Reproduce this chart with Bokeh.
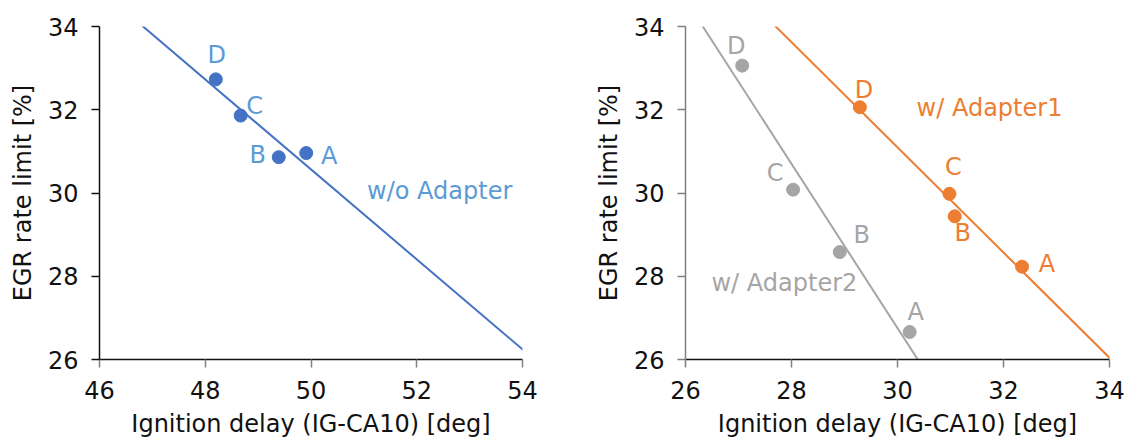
import numpy as np
from bokeh.plotting import figure
from bokeh.layouts import row
from bokeh.models import ColumnDataSource, Label, Range1d, FixedTicker
from bokeh.core.properties import value
from bokeh.embed import file_html
from bokeh.resources import INLINE

# ---------------- data ----------------
point_names = ["A", "B", "C", "D"]

# without adapter (left panel)
wo_x = [49.91, 49.39, 48.67, 48.20]
wo_y = [30.96, 30.86, 31.86, 32.73]

# with adapter 1 (right panel, orange)
a1_x = [32.35, 31.08, 30.98, 29.29]
a1_y = [28.23, 29.44, 29.98, 32.06]

# with adapter 2 (right panel, gray)
a2_x = [30.23, 28.91, 28.03, 27.07]
a2_y = [26.66, 28.58, 30.08, 33.06]

left_xticks = [46, 48, 50, 52, 54]
right_xticks = [26, 28, 30, 32, 34]
yticks = [26, 28, 30, 32, 34]

x_title = "Ignition delay (IG-CA10) [deg]"
y_title = "EGR rate limit [%]"

# ---------------- styles ----------------
FONT = "DejaVu Sans"
BLUE_PT, BLUE_TX = "#4472C4", "#5B9BD5"
ORANGE = "#ED7D31"
GRAY = "#A5A5A5"

# pixel offsets of point letters (style only)
wo_off = dict(dx=[23, -21, 14, 1], dy=[3, -2, -10, -24])
a1_off = dict(dx=[25, 8, 4, 4], dy=[-3, 17, -27, -17])
a2_off = dict(dx=[6, 22, -18, -6], dy=[-20, -17, -17, -20])


def make_fig(xticks, yaxis_color, border_left, border_right):
    p = figure(width=564, height=441,
               x_range=Range1d(xticks[0], xticks[-1]),
               y_range=Range1d(yticks[0], yticks[-1]),
               output_backend="svg", toolbar_location=None,
               min_border_left=border_left, min_border_right=border_right,
               min_border_top=26, min_border_bottom=82)
    p.outline_line_color = None
    p.grid.visible = False
    p.background_fill_color = "white"
    p.border_fill_color = "white"
    p.xaxis.ticker = FixedTicker(ticks=xticks)
    p.yaxis.ticker = FixedTicker(ticks=yticks)
    for ax in (p.xaxis[0], p.yaxis[0]):
        ax.minor_tick_line_color = None
        ax.major_tick_in = 0
        ax.major_tick_out = 8
        ax.major_label_standoff = 13
        ax.major_label_text_font = FONT
        ax.major_label_text_font_size = "24px"
        ax.major_label_text_color = "#111111"
        ax.axis_label_text_font = FONT
        ax.axis_label_text_font_size = "24px"
        ax.axis_label_text_font_style = "normal"
        ax.axis_label_text_color = "#111111"
        ax.major_tick_line_color = "#808080"
        ax.major_tick_line_width = 1.5
        ax.axis_line_width = 1.5
    p.xaxis.axis_line_color = "#111111"
    p.yaxis.axis_line_color = yaxis_color
    p.yaxis.major_tick_line_color = yaxis_color
    p.xaxis.axis_label = x_title
    p.yaxis.axis_label = y_title
    p.xaxis.axis_label_standoff = 8
    p.yaxis.axis_label_standoff = 8
    return p


def add_series(p, xs, ys, pt_color, tx_color, off, xr):
    k, b = np.polyfit(xs, ys, 1)
    lx = [xr[0] - 1, xr[1] + 1]
    p.line(lx, [k * v + b for v in lx], line_color=pt_color, line_width=2)
    src = ColumnDataSource(dict(x=xs, y=ys, t=point_names,
                                dx=off["dx"], dy=off["dy"]))
    p.scatter("x", "y", source=src, size=13, fill_color=pt_color,
              line_color=pt_color)
    p.text("x", "y", text="t", source=src, x_offset="dx", y_offset="dy",
           text_align="center", text_baseline="middle",
           text_font=value(FONT), text_font_size="24px", text_color=tx_color)


# left panel
p1 = make_fig(left_xticks, "#111111", 99, 42)
add_series(p1, wo_x, wo_y, BLUE_PT, BLUE_TX, wo_off, (46, 54))
p1.add_layout(Label(x=51.06, y=30.04, text="w/o Adapter", text_font=FONT,
                    text_font_size="24px", text_color=BLUE_TX,
                    text_baseline="middle", text_align="left"))

# right panel
p2 = make_fig(right_xticks, "#7F7F7F", 121, 19)
add_series(p2, a2_x, a2_y, GRAY, GRAY, a2_off, (26, 34))
add_series(p2, a1_x, a1_y, ORANGE, ORANGE, a1_off, (26, 34))
p2.add_layout(Label(x=30.36, y=32.05, text="w/ Adapter1", text_font=FONT,
                    text_font_size="24px", text_color=ORANGE,
                    text_baseline="middle", text_align="left"))
p2.add_layout(Label(x=26.49, y=27.83, text="w/ Adapter2", text_font=FONT,
                    text_font_size="24px", text_color=GRAY,
                    text_baseline="middle", text_align="left"))

layout = row(p1, p2, spacing=0)
open("out.html", "w").write(file_html(layout, INLINE))
